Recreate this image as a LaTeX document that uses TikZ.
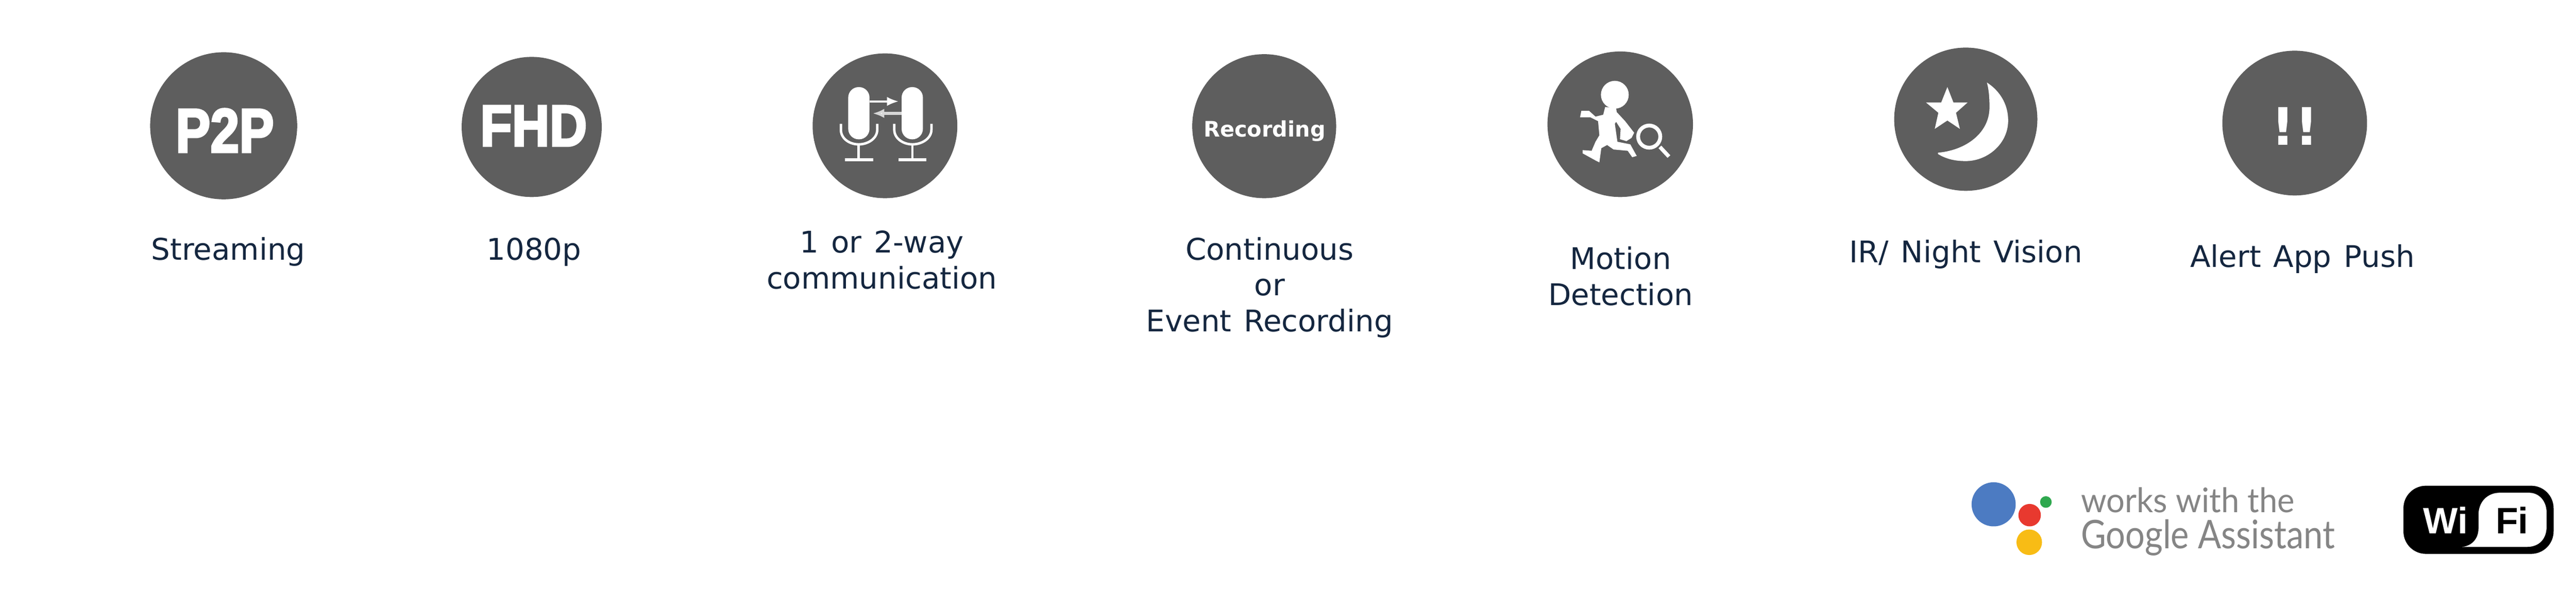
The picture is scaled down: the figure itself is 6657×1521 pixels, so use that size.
\documentclass[tikz,border=0pt]{standalone}
\usepackage{fontspec}
\usepackage{tikz}
\usetikzlibrary{arrows.meta}
\setmainfont{DejaVu Sans}
\newfontfamily\captionfont{DejaVu Sans}[WordSpace=1.3]
\newfontfamily\heavyfont{Liberation Sans}[BoldFeatures={FakeBold=3.5}]
\newfontfamily\wififont{Liberation Sans}
\newfontfamily\googlefont{Lato}

\definecolor{icongray}{HTML}{5E5E5E}
\definecolor{labelblue}{HTML}{14263F}
\definecolor{googlegray}{HTML}{858585}
\definecolor{dotblue}{HTML}{4C7BC2}
\definecolor{dotred}{HTML}{E8392F}
\definecolor{dotyellow}{HTML}{F8BC15}
\definecolor{dotgreen}{HTML}{2FA84F}

\tikzset{
	badge/.style={fill=icongray,draw=none},
	iconpart/.style={fill=white,draw=none},
	iconline/.style={draw=white,line width=1.8pt},
	caption/.style={anchor=base,inner sep=0pt,align=center,text=labelblue,font=\captionfont\fontsize{21.9}{26.4}\selectfont},
	heavytext/.style={anchor=base,inner sep=0pt,text=white,xscale=0.84,font=\heavyfont\bfseries\fontsize{45.5}{47}\selectfont},
	googletext/.style={anchor=base west,inner sep=0pt,text=googlegray},
	wifitext/.style={anchor=base west,inner sep=0pt,font=\wififont\bfseries\fontsize{27}{27}\selectfont}
}

\begin{document}
\begin{tikzpicture}[x=0.01cm,y=-0.01cm]
\useasboundingbox (0,0) rectangle (6657,1521);

% round badges
\draw [badge] (578,325) circle (190);
\draw [badge] (1374,328) circle (181);
\draw [badge] (2287,325) circle (187);
\draw [badge] (3267,326) circle (186);
\draw [badge] (4187,321) circle (188);
\draw [badge] (5080,308) circle (185);
\draw [badge] (5930,318) circle (187);

% letters on the badges
\draw (581,393) node[heavytext] (badgePtwoP) {P2P};
\draw (1379,377) node[heavytext,yscale=0.94] (badgeFHD) {FHD};
\draw (3268,353) node[anchor=base,inner sep=0pt,text=white,font=\bfseries\fontsize{15.7}{15.7}\selectfont] (badgeRec) {Recording};
\draw (5930,375) node[anchor=base,inner sep=0pt,text=white,font=\bfseries\fontsize{38}{38}\selectfont] (badgeAlert) {!!};

% two microphones
\draw [iconpart,rounded corners=0.27cm] (2192,225) rectangle (2247,360);
\draw [iconpart,rounded corners=0.27cm] (2330,225) rectangle (2385,360);
\draw [iconline] (2173,320) -- (2173,335) .. controls (2173,358) and (2195,373) .. (2219,373) .. controls (2243,373) and (2267,358) .. (2267,335) -- (2267,320);
\draw [iconline] (2311,320) -- (2311,335) .. controls (2311,358) and (2334,373) .. (2358,373) .. controls (2382,373) and (2407,358) .. (2407,335) -- (2407,320);
\draw [iconline] (2219,373) -- (2219,413);
\draw [iconline] (2358,373) -- (2358,413);
\draw [iconline,line width=2.4pt] (2183,413) -- (2257,413);
\draw [iconline,line width=2.4pt] (2322,413) -- (2394,413);
\draw [iconline,line width=1.4pt,-{Latex[length=0.3cm,width=0.24cm]}] (2247,262) -- (2322,262);
\draw [iconline,line width=2pt,draw=white!75!icongray,-{Latex[length=0.3cm,width=0.24cm,fill=white]}] (2330,293) -- (2255,293);

% runner with magnifier
\begin{scope}[shift={(4000,120)},x=0.003333cm,y=-0.003333cm]
\draw [iconpart] (520,375) circle (108);
\draw [iconpart] (445,470) -- (530,480) -- (535,510) -- (600,580) -- (670,670) -- (650,710) -- (610,735) -- (560,720) -- (565,640) -- (530,585) -- (520,600) -- (540,740) -- (640,760) -- (690,850) -- (655,860) -- (620,810) -- (510,800) -- (460,765) -- (415,790) -- (400,900) -- (370,885) -- (270,830) -- (270,805) -- (340,810) -- (370,740) -- (400,690) -- (390,580) -- (330,550) -- (250,550) -- (260,500) -- (320,500) -- (370,545) -- (430,530) -- cycle;
\draw [iconline,line width=2.8pt] (787,700) circle (86);
\draw [iconline,line width=2.8pt] (870,780) -- (940,855);
\end{scope}

% star and moon
\begin{scope}[shift={(4890,115)},x=0.003333cm,y=-0.003333cm]
\draw [iconpart] (428,330) -- (475,450) -- (585,450) -- (495,530) -- (525,655) -- (428,590) -- (330,655) -- (358,530) -- (262,450) -- (380,450) -- cycle;
\draw [iconpart] (735,295) .. controls (850,370) and (900,480) .. (900,590) .. controls (900,770) and (740,905) .. (570,905) .. controls (490,905) and (420,890) .. (355,850) -- (355,840) .. controls (580,820) and (760,680) .. (755,480) .. controls (755,410) and (750,350) .. (735,295);
\end{scope}

% captions
\draw (590,672) node[caption] (lblStreaming) {Streaming};
\draw (1380,672) node[caption] (lblFHD) {1080p};
\draw (2279,746) node[caption] (lblTalk) {1 or 2-way\\communication};
\draw (3281,857) node[caption] (lblRecord) {Continuous\\or\\Event Recording};
\draw (4188,789) node[caption] (lblMotion) {Motion\\Detection};
\draw (5080,678) node[caption] (lblNight) {IR/ Night Vision};
\draw (5950,690) node[caption] (lblAlert) {Alert App Push};

% assistant dots
\draw [fill=dotblue,draw=none] (5152,1303) circle (57);
\draw [fill=dotred,draw=none] (5245,1331) circle (29);
\draw [fill=dotyellow,draw=none] (5244,1401) circle (33);
\draw [fill=dotgreen,draw=none] (5287,1297) circle (15);
\draw (5377,1324) node[googletext,font=\googlefont\fontsize{25}{25}\selectfont,xscale=0.96] (worksWith) {works with the};
\draw (5377,1417) node[googletext,font=\googlefont\fontsize{29}{29}\selectfont,xscale=0.873] (assistName) {Google Assistant};

% wifi badge
\draw [fill=black,draw=none,rounded corners=0.58cm] (6211,1255) rectangle (6599,1431);
\draw [iconpart] (6363,1413) .. controls (6390,1410) and (6405,1390) .. (6405,1365) -- (6405,1330) .. controls (6405,1295) and (6430,1273) .. (6460,1273) -- (6535,1273) .. controls (6562,1273) and (6581,1295) .. (6581,1325) -- (6581,1360) .. controls (6581,1392) and (6562,1413) .. (6530,1413) -- cycle;
\draw (6262,1378) node[wifitext,text=white] (wifiLeft) {Wi};
\draw (6449,1378) node[wifitext,text=black] (wifiRight) {Fi};

\end{tikzpicture}
\end{document}
